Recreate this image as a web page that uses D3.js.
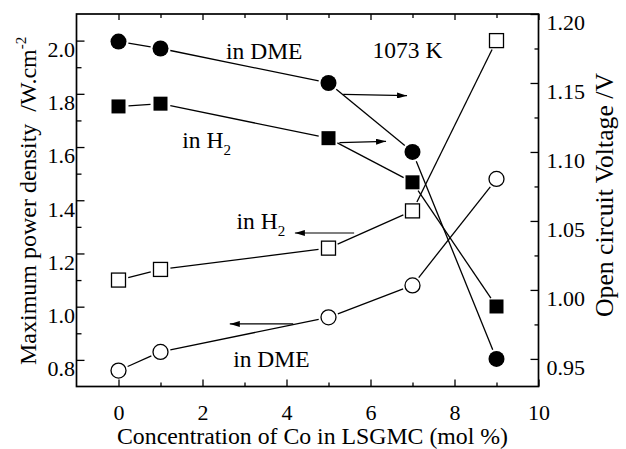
<!DOCTYPE html>
<html>
<head>
<meta charset="utf-8">
<title>Power density and OCV vs Co content</title>
<script src="https://cdn.jsdelivr.net/npm/d3@7"></script>
<style>
body { margin: 0; background: #fff; }
svg { display: block; font-family: "Liberation Serif", "Times New Roman", serif; }
.axis path { display: none; }
.axis line { stroke: #000; stroke-width: 1.3; }
.lbl { font-size: 23.5px; fill: #000; }
</style>
</head>
<body>
<svg id="chart" width="626" height="449"></svg>
<script>
// concentration of Co (mol %)
var conc = [0, 1, 5, 7, 9];
// max power density, W/cm2 (left axis, open symbols)
var pdDME = [0.76, 0.83, 0.96, 1.08, 1.48];
var pdH2 = [1.10, 1.14, 1.22, 1.36, 2.00];
// open circuit voltage, V (right axis, filled symbols)
var ocvDME = [1.180, 1.175, 1.150, 1.100, 0.950];
var ocvH2 = [1.133, 1.135, 1.110, 1.078, 0.988];

var xMajor = [0, 2, 4, 6, 8, 10];
var xMinor = [1, 3, 5, 7, 9];
var yLMajor = [0.8, 1.0, 1.2, 1.4, 1.6, 1.8, 2.0];
var yLMinor = [0.9, 1.1, 1.3, 1.5, 1.7, 1.9];
var yRMajor = [0.95, 1.00, 1.05, 1.10, 1.15, 1.20];
var yRMinor = [0.975, 1.025, 1.075, 1.125, 1.175];

// annotation arrows [x0, y0, x1, y1] in data units
var arrowsRight = [[5.35, 1.1417, 6.87, 1.1408], [5.26, 1.1067, 6.37, 1.1077]];
var arrowsLeft = [[5.61, 1.277, 4.20, 1.277], [4.16, 0.935, 2.65, 0.935]];

var pL = 76.5, pR = 538.5, pT = 14, pB = 386.5;
var SERIF = '"Liberation Serif", "Times New Roman", serif';

var x = d3.scaleLinear().domain([-1, 10]).range([pL, pR]);
var yL = d3.scaleLinear().domain([0.7, 2.1]).range([pB, pT]);
var yR = d3.scaleLinear().domain([0.93, 1.20]).range([pB, pT]);

var svg = d3.select('#chart');

svg.append('defs').append('marker')
  .attr('id', 'head')
  .attr('viewBox', '0 0 10 6')
  .attr('refX', 10).attr('refY', 3)
  .attr('markerWidth', 10).attr('markerHeight', 6)
  .attr('markerUnits', 'userSpaceOnUse')
  .attr('orient', 'auto')
  .append('path').attr('d', 'M0,0 L10,3 L0,6 Z').attr('fill', '#000');

function addAxis(tx, ty, axis) {
  var g = svg.append('g').attr('class', 'axis')
    .attr('transform', 'translate(' + tx + ',' + ty + ')')
    .call(axis);
  g.attr('font-family', SERIF).attr('font-size', 22);
  g.selectAll('text').attr('fill', '#000');
  return g;
}

// axes, ticks inside
addAxis(0, pB, d3.axisBottom(x).tickValues(xMajor).tickSize(-7).tickSizeOuter(0).tickPadding(18).tickFormat(d3.format('d')));
addAxis(0, pB, d3.axisBottom(x).tickValues(xMinor).tickSize(-4).tickSizeOuter(0).tickFormat(''));
addAxis(0, pT, d3.axisTop(x).tickValues(xMajor).tickSize(-6).tickSizeOuter(0).tickFormat(''));
addAxis(0, pT, d3.axisTop(x).tickValues(xMinor).tickSize(-4).tickSizeOuter(0).tickFormat(''));

addAxis(pL, 0, d3.axisLeft(yL).tickValues(yLMajor).tickSize(-8).tickSizeOuter(0).tickPadding(1.5).tickFormat(d3.format('.1f')))
  .selectAll('text').attr('dy', '0.72em');
addAxis(pL, 0, d3.axisLeft(yL).tickValues(yLMinor).tickSize(-5).tickSizeOuter(0).tickFormat(''));

addAxis(pR, 0, d3.axisRight(yR).tickValues(yRMajor).tickSize(-8).tickSizeOuter(0).tickPadding(8).tickFormat(d3.format('.2f')))
  .selectAll('text').attr('dy', '0.72em');
addAxis(pR, 0, d3.axisRight(yR).tickValues(yRMinor).tickSize(-4).tickSizeOuter(0).tickFormat(''));

svg.append('rect')
  .attr('x', pL).attr('y', pT)
  .attr('width', pR - pL).attr('height', pB - pT)
  .attr('fill', 'none').attr('stroke', '#000').attr('stroke-width', 1.7);

// series
var series = [
  { vals: ocvDME, y: yR, shape: 'circle', filled: true },
  { vals: ocvH2, y: yR, shape: 'square', filled: true },
  { vals: pdH2, y: yL, shape: 'square', filled: false },
  { vals: pdDME, y: yL, shape: 'circle', filled: false }
];

function dist(d) {
  return Math.hypot(d[1][0] - d[0][0], d[1][1] - d[0][1]);
}

var gap = 10;
series.forEach(function(s) {
  var pts = conc.map(function(c, i) { return [x(c), s.y(s.vals[i])]; });
  var segs = d3.pairs(pts);
  svg.append('g').selectAll('line').data(segs).enter().append('line')
    .attr('x1', function(d) { return d[0][0] + (d[1][0] - d[0][0]) * gap / dist(d); })
    .attr('y1', function(d) { return d[0][1] + (d[1][1] - d[0][1]) * gap / dist(d); })
    .attr('x2', function(d) { return d[1][0] - (d[1][0] - d[0][0]) * gap / dist(d); })
    .attr('y2', function(d) { return d[1][1] - (d[1][1] - d[0][1]) * gap / dist(d); })
    .attr('stroke', '#000').attr('stroke-width', 1.3);
});

series.forEach(function(s) {
  var mk = svg.append('g').selectAll('.m').data(conc).enter();
  var el;
  if (s.shape === 'circle') {
    el = mk.append('circle')
      .attr('cx', function(c) { return x(c); })
      .attr('cy', function(c, i) { return s.y(s.vals[i]); })
      .attr('r', s.filled ? 8 : 7.5);
  } else {
    el = mk.append('rect')
      .attr('x', function(c) { return x(c) - 7; })
      .attr('y', function(c, i) { return s.y(s.vals[i]) - 7; })
      .attr('width', 14).attr('height', 14);
  }
  el.attr('fill', s.filled ? '#000' : '#fff')
    .attr('stroke', '#000').attr('stroke-width', s.filled ? 0 : 1.3);
});

// arrows
function drawArrows(list, ys) {
  svg.append('g').selectAll('line').data(list).enter().append('line')
    .attr('x1', function(d) { return x(d[0]); })
    .attr('y1', function(d) { return ys(d[1]); })
    .attr('x2', function(d) { return x(d[2]); })
    .attr('y2', function(d) { return ys(d[3]); })
    .attr('stroke', '#000').attr('stroke-width', 1.2)
    .attr('marker-end', 'url(#head)');
}
drawArrows(arrowsRight, yR);
drawArrows(arrowsLeft, yL);

// labels (x in mol %, y on left axis)
function label(cx, cy, txt, sub) {
  var t = svg.append('text').attr('class', 'lbl')
    .attr('x', x(cx)).attr('y', yL(cy)).text(txt);
  if (sub) {
    t.append('tspan').attr('font-size', '15px').attr('dy', 7).text(sub);
  }
}
label(2.56, 1.930, 'in DME');
label(6.05, 1.934, '1073 K');
label(1.52, 1.5975, 'in H', '2');
label(2.81, 1.291, 'in H', '2');
label(2.73, 0.774, 'in DME');

// axis titles
svg.append('text')
  .attr('x', 117).attr('y', 444)
  .attr('font-size', '24px')
  .attr('textLength', 391).attr('lengthAdjust', 'spacingAndGlyphs')
  .text('Concentration of Co in LSGMC (mol %)');

var lt = svg.append('text')
  .attr('transform', 'translate(36,365) rotate(-90)')
  .attr('font-size', '24px')
  .style('white-space', 'pre');
lt.append('tspan').text('Maximum power density  /W.cm');
lt.append('tspan').attr('font-size', '15px').attr('dy', -10).text('-2');

svg.append('text')
  .attr('transform', 'translate(613,317) rotate(-90)')
  .attr('font-size', '25px')
  .attr('textLength', 244).attr('lengthAdjust', 'spacingAndGlyphs')
  .text('Open circuit Voltage /V');
</script>
</body>
</html>
